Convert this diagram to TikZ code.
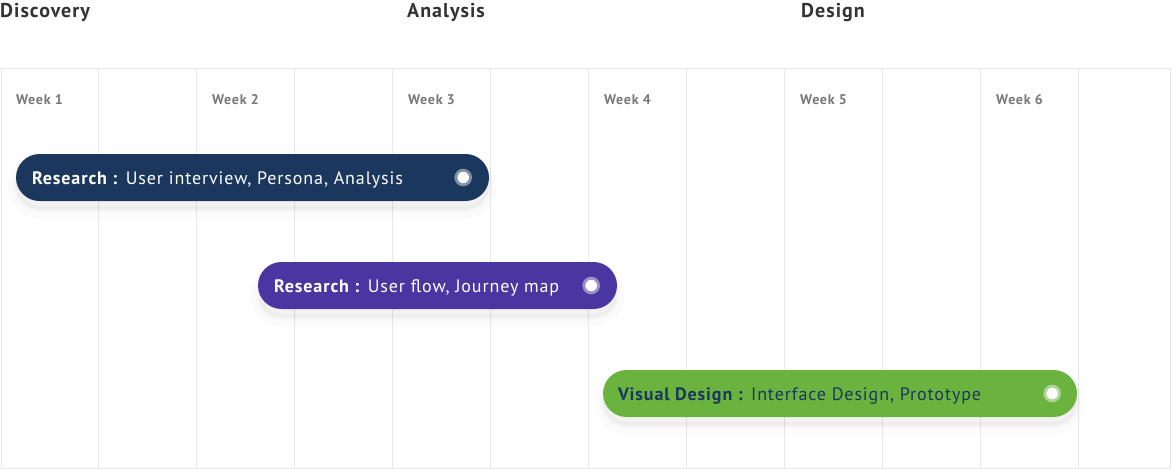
\documentclass[tikz,border=0pt]{standalone}
\usepackage{fontspec}
\setmainfont{PT Sans}[LetterSpace=5]
\usetikzlibrary{positioning}
\definecolor{navy}{HTML}{1B375D}
\definecolor{grape}{HTML}{4A35A1}
\definecolor{leaf}{HTML}{6BB33F}
\definecolor{headgray}{HTML}{333333}
\definecolor{weekgray}{HTML}{777777}
\definecolor{gridgray}{HTML}{E8E8E8}
\begin{document}
\begin{tikzpicture}[x=1pt,y=-1pt,
  gridline/.style={draw=gridgray, line width=1pt},
  phase/.style={anchor=base west, inner sep=0, text=headgray, font=\bfseries\fontsize{20}{24}\selectfont},
  week/.style={anchor=base west, inner sep=0, text=weekgray, font=\bfseries\fontsize{14}{16}\selectfont},
  bar/.style={minimum height=47pt, inner sep=0, rounded corners=23.5pt,
    preaction={fill=black, fill opacity=0.015, draw=black, draw opacity=0.015, line width=16pt, transform canvas={yshift=-9pt}},
    preaction={fill=black, fill opacity=0.02, draw=black, draw opacity=0.02, line width=6pt, transform canvas={yshift=-8pt}}},
  bartext/.style={anchor=base west, inner sep=0, font=\fontsize{18}{20}\selectfont},
  knob/.style={circle, fill=white, minimum size=11.5pt, inner sep=0,
    preaction={draw=white, draw opacity=0.45, line width=6pt}}]
\useasboundingbox (0,0) rectangle (1172,469);
%网格
\draw[gridline] (1,68) rectangle (1170,468);
\foreach \i in {1,...,11}
  \draw[gridline] (98*\i,68) -- (98*\i,468);
%阶段
\node[phase] (discovery) at (0,17) {Discovery};
\node[phase] (analysis) at (407,17) {Analysis};
\node[phase] (design) at (801,17) {Design};
\foreach \w in {1,...,6}
  \node[week] (week\w) at (196*\w-180,104) {Week \w};
%任务条
\node[bar, fill=navy, minimum width=473pt] (research1) at (252.5,177.5) {};
\node[bartext, text=white] (text1) at ([xshift=16pt,yshift=-6.8pt]research1.west) {\textbf{Research :} User interview, Persona, Analysis};
\node[knob] (dot1) at ([xshift=-26pt]research1.east) {};
\node[bar, fill=grape, minimum width=359pt] (research2) at (437.5,285.5) {};
\node[bartext, text=white] (text2) at ([xshift=16pt,yshift=-6.8pt]research2.west) {\textbf{Research :} User flow, Journey map};
\node[knob] (dot2) at ([xshift=-26pt]research2.east) {};
\node[bar, fill=leaf, minimum width=474pt] (visual) at (840,393.5) {};
\node[bartext, text=navy] (text3) at ([xshift=15pt,yshift=-6.8pt]visual.west) {\textbf{Visual Design :} Interface Design, Prototype};
\node[knob] (dot3) at ([xshift=-25pt]visual.east) {};
\end{tikzpicture}
\end{document}
